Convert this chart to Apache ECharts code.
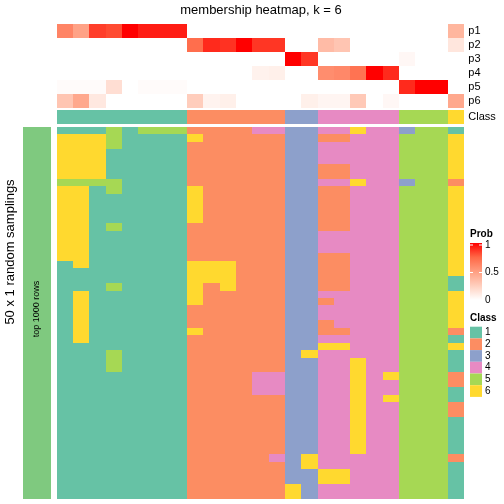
<!DOCTYPE html>
<html>
<head>
<meta charset="utf-8">
<script src="https://cdn.jsdelivr.net/npm/echarts@6/dist/echarts.min.js"></script>
<style>html,body{margin:0;padding:0;background:#fff;}#c{width:504px;height:504px;}</style>
</head>
<body>
<div id="c"></div>
<script>
// ---- data ----
var titleText = 'membership heatmap, k = 6';
var probRows = ['p1', 'p2', 'p3', 'p4', 'p5', 'p6'];
var p1 = [0.62,0.48,0.85,0.82,1,0.93,0.93,0.93,0,0,0,0,0,0,0,0,0,0,0,0,0,0,0,0,0.38];
var p2 = [0,0,0,0,0,0,0,0,0.72,0.9,0.88,1,0.87,0.87,0,0,0.35,0.3,0,0,0,0,0,0,0.13];
var p3 = [0,0,0,0,0,0,0,0,0,0,0,0,0,0,1,0.87,0,0,0,0,0,0.04,0,0,0];
var p4 = [0,0,0,0,0,0,0,0,0,0,0,0,0.07,0.08,0,0,0.58,0.6,0.7,1,0.9,0,0,0,0];
var p5 = [0.02,0.02,0.02,0.17,0,0.02,0.02,0.02,0,0,0,0,0,0,0,0,0,0,0,0,0,0.9,1,1,0];
var p6 = [0.3,0.45,0.12,0,0,0,0,0,0.26,0.06,0.08,0,0,0,0,0.08,0.05,0.05,0.28,0,0.04,0,0,0,0.45];
var classRow = '1111111122222233444445556';
var samplingRows = [
'1115155522224433446443551',
'6665111162222233224445556',
'6665111122222233444445556',
'6661111122222233444445556',
'6661111122222233444445556',
'6661111122222233224445556',
'6661111122222233224445556',
'5555111122222233446443552',
'6615111162222233224445556',
'6611111162222233224445556',
'6611111162222233224445556',
'6611111162222233224445556',
'6611111162222233224445556',
'6615111122222233224445556',
'6611111122222233444445556',
'6611111122222233444445556',
'6611111122222233444445556',
'6611111122222233224445556',
'1611111166622233224445556',
'1111111166622233224445556',
'1111111166622233224445551',
'1115111162622233224445551',
'1611111162222233444445556',
'1611111162222233244445556',
'1611111122222233444445556',
'1611111122222233444445556',
'1611111122222233244445556',
'1611111162222233224445552',
'1611111122222233444445551',
'1111111122222233664445556',
'1115111122222236444445551',
'1115111122222233446445551',
'1115111122222233446445551',
'1111111122224433446465552',
'1111111122224433446445552',
'1111111122224433446445551',
'1111111122222233446465551',
'1111111122222233446445552',
'1111111122222233446445552',
'1111111122222233446445551',
'1111111122222233446445551',
'1111111122222233446445551',
'1111111122222233446445551',
'1111111122222233446445551',
'1111111122222436444445552',
'1111111122222236444445551',
'1111111122222233664445551',
'1111111122222233664445551',
'1111111122222263444445551',
'1111111122222263444445551'
];
var classLabels = ['1', '2', '3', '4', '5', '6'];
var classColors = ['#66C2A5', '#FC8D62', '#8DA0CB', '#E78AC3', '#A6D854', '#FFD92F'];
var rowAnnoColor = '#7FC97F';
var probTicks = ['1', '0.5', '0'];
var leftTitle = '50 x 1 random samplings';
var rowAnnoText = 'top 1000 rows';

// ---- build ----
var nCol = classRow.length;
var cols = []; for (var i = 0; i < nCol; i++) cols.push('c' + i);
var probData = [];
[p1, p2, p3, p4, p5, p6].forEach(function (arr, r) {
  arr.forEach(function (v, c) { probData.push([c, r, v]); });
});
var classData = [];
for (var c = 0; c < nCol; c++) classData.push([c, 0, +classRow[c]]);
var sampRowsCat = samplingRows.map(function (_, i) { return 'r' + i; });
var sampData = [];
samplingRows.forEach(function (s, r) {
  for (var c = 0; c < s.length; c++) sampData.push([c, r, +s[c]]);
});
var redStops = ['#FFFFFF', '#FFCFBE', '#FF9E81', '#FF6846', '#FF0000'];

var L = 56.7, W = 407.6;
var FONT = '"Liberation Sans", Arial, sans-serif';
function hiddenX(gi) {
  return { type: 'category', data: cols, gridIndex: gi, show: false };
}
var pieces = classLabels.map(function (l, i) { return { value: i + 1, color: classColors[i] }; });
pieces.push({ value: 7, color: rowAnnoColor });

function cellRender(params, api) {
  var p = api.coord([api.value(0), api.value(1)]);
  var s = api.size([1, 1]);
  var x0 = Math.round(p[0] - s[0] / 2), x1 = Math.round(p[0] + s[0] / 2);
  var y0 = Math.round(p[1] - s[1] / 2), y1 = Math.round(p[1] + s[1] / 2);
  return { type: 'rect', shape: { x: x0, y: y0, width: x1 - x0, height: y1 - y0 },
    style: { fill: api.visual('color') } };
}
function cellSeries(xi, yi, data) {
  return { type: 'custom', xAxisIndex: xi, yAxisIndex: yi, data: data, renderItem: cellRender,
    encode: { x: 0, y: 1 }, silent: true };
}

var graphics = [];
graphics.push({ type: 'text', x: 261, y: 10, style: { text: titleText, font: '13px ' + FONT, fill: '#000', textAlign: 'center', textVerticalAlign: 'middle' } });
graphics.push({ type: 'text', x: 10, y: 252, rotation: Math.PI / 2, style: { text: leftTitle, font: '13px ' + FONT, fill: '#000', textAlign: 'center', textVerticalAlign: 'middle' } });
graphics.push({ type: 'text', x: 37, y: 309, rotation: Math.PI / 2, z: 100, style: { text: rowAnnoText, font: '9px ' + FONT, fill: '#000', textAlign: 'center', textVerticalAlign: 'middle' } });
// Prob legend
graphics.push({ type: 'text', x: 470, y: 234, style: { text: 'Prob', font: 'bold 10px ' + FONT, fill: '#000', textAlign: 'left', textVerticalAlign: 'middle' } });
graphics.push({ type: 'rect', shape: { x: 470, y: 243, width: 12, height: 57 }, style: { fill: new echarts.graphic.LinearGradient(0, 0, 0, 1, redStops.slice().reverse().map(function (col, i) { return { offset: i / (redStops.length - 1), color: col }; })) } });
[245, 272.5].forEach(function (yy) {
  graphics.push({ type: 'line', shape: { x1: 470, y1: yy, x2: 473, y2: yy }, style: { stroke: '#fff', lineWidth: 1 } });
  graphics.push({ type: 'line', shape: { x1: 479, y1: yy, x2: 482, y2: yy }, style: { stroke: '#fff', lineWidth: 1 } });
});
probTicks.forEach(function (t, i) {
  graphics.push({ type: 'text', x: 485, y: 245 + i * 27.5, style: { text: t, font: '10px ' + FONT, fill: '#000', textAlign: 'left', textVerticalAlign: 'middle' } });
});
// Class legend
graphics.push({ type: 'text', x: 470, y: 318, style: { text: 'Class', font: 'bold 10px ' + FONT, fill: '#000', textAlign: 'left', textVerticalAlign: 'middle' } });
classLabels.forEach(function (l, i) {
  var y0 = 326.7 + i * 11.7;
  graphics.push({ type: 'rect', shape: { x: 470, y: y0, width: 12, height: 11.7 }, style: { fill: classColors[i] } });
  graphics.push({ type: 'text', x: 485, y: y0 + 5.85, style: { text: l, font: '10px ' + FONT, fill: '#000', textAlign: 'left', textVerticalAlign: 'middle' } });
});

var option = {
  animation: false,
  backgroundColor: '#fff',
  grid: [
    { left: L, top: 24, width: W, height: 84 },
    { left: L, top: 110, width: W, height: 14 },
    { left: L, top: 126.7, width: W, height: 372.3 },
    { left: 23, top: 126.7, width: 28, height: 372.3 }
  ],
  xAxis: [hiddenX(0), hiddenX(1), hiddenX(2), { type: 'category', data: ['a'], gridIndex: 3, show: false }],
  yAxis: [
    { type: 'category', data: probRows, gridIndex: 0, inverse: true, position: 'right',
      axisLine: { show: false }, axisTick: { show: false },
      axisLabel: { interval: 0, margin: 4, fontSize: 11, color: '#000', fontFamily: FONT } },
    { type: 'category', data: ['Class'], gridIndex: 1, position: 'right',
      axisLine: { show: false }, axisTick: { show: false },
      axisLabel: { interval: 0, margin: 4, fontSize: 11, color: '#000', fontFamily: FONT } },
    { type: 'category', data: sampRowsCat, gridIndex: 2, inverse: true, show: false },
    { type: 'category', data: ['a'], gridIndex: 3, show: false }
  ],
  visualMap: [
    { type: 'continuous', show: false, seriesIndex: 0, dimension: 2, min: 0, max: 1, inRange: { color: redStops } },
    { type: 'piecewise', show: false, seriesIndex: [1, 2, 3], dimension: 2, pieces: pieces }
  ],
  series: [
    cellSeries(0, 0, probData),
    cellSeries(1, 1, classData),
    cellSeries(2, 2, sampData),
    cellSeries(3, 3, [[0, 0, 7]])
  ],
  graphic: graphics
};
var chart = echarts.init(document.getElementById('c'), null, { renderer: 'canvas' });
chart.setOption(option);
</script>
</body>
</html>
